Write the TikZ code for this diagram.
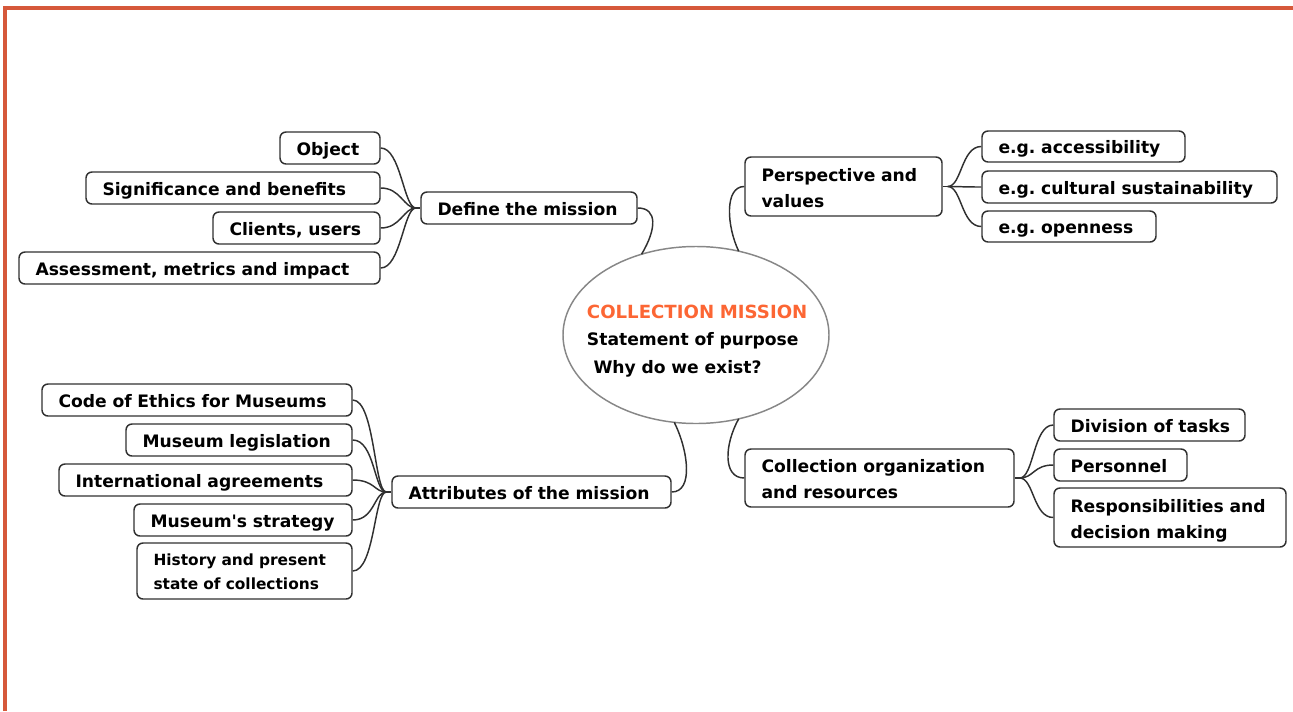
\documentclass[tikz,border=0pt]{standalone}
\usepackage{fontspec}
\setmainfont{DejaVu Sans}
\usetikzlibrary{calc,shapes.geometric}
\definecolor{framec}{RGB}{214,88,58}
\definecolor{titlec}{RGB}{252,102,52}
\definecolor{ink}{RGB}{48,48,48}
\definecolor{rim}{RGB}{135,135,135}
\frenchspacing
\newcommand\mbx[7][]{\node[box,#1,minimum width={(#5-#3)*0.75pt},minimum height={(#6-#4)*0.75pt},text width={(#5-#3-33)*0.75pt}] (#2) at ({(#3+#5)/2},{(#4+#6)/2}) {#7};}
\begin{document}
\begin{tikzpicture}[x=0.75pt,y=-0.75pt,
  box/.style={draw=ink, line width=1.1pt, rounded corners=4.5pt, inner xsep=12.375pt, inner ysep=0pt,
    align=left, font=\bfseries\frenchspacing\fontsize{12.87}{19.5}\selectfont, text height=10.9pt, text depth=0pt},
  twolines/.style={text height=11.6pt, text depth=19.5pt},
  small/.style={font=\bfseries\fontsize{11.55}{18}\selectfont, text height=9.9pt, text depth=18pt},
  link/.style={draw=ink, line width=1.1pt},
  framel/.style={draw=framec, line width=2.4pt},
]
\path[use as bounding box] (0,0) rectangle (1293,711);
\draw[framel] (5,711) -- (5,8) -- (1293,8);

% centre
\node[ellipse, draw=rim, line width=1.1pt, minimum width=199.5pt, minimum height=132.75pt, inner sep=0pt, outer sep=0pt] (core) at (696,335) {};
\node[anchor=base west, inner sep=0pt, text width=180pt, align=left,
  font=\bfseries\fontsize{12.87}{20.8}\selectfont] (ctext) at (586.7,318.2)
  {{\color{titlec}\fontsize{13.6}{20.8}\selectfont COLLECTION MISSION}\\Statement of purpose\\\hspace*{4.9pt}Why do we exist?};

% upper left
\mbx{dm}{421}{192}{637}{224}{\mbox{Define the mission}}
\mbx{obj}{280}{132}{380}{164}{\mbox{Object}}
\mbx{sig}{86}{172}{380}{204}{\mbox{Significance and benefits}}
\mbx{cli}{213}{212}{380}{244}{\mbox{Clients, users}}
\mbx{ass}{19}{252}{380}{284}{\mbox{Assessment, metrics and impact}}

% upper right
\mbx[twolines]{pv}{745}{157}{942}{216}{\mbox{Perspective and}\\\mbox{values}}
\mbx{acc}{982}{131}{1185}{162}{\mbox{e.g. accessibility}}
\mbx{cul}{982}{171}{1277}{203}{\mbox{e.g. cultural sustainability}}
\mbx{ope}{982}{211}{1156}{242}{\mbox{e.g. openness}}

% lower left
\mbx{attr}{392}{476}{671}{508}{\mbox{Attributes of the mission}}
\mbx{coe}{42}{384}{352}{416}{\mbox{Code of Ethics for Museums}}
\mbx{leg}{126}{424}{352}{456}{\mbox{Museum legislation}}
\mbx{intl}{59}{464}{352}{496}{\mbox{International agreements}}
\mbx{strat}{134}{504}{352}{536}{\mbox{Museum\textquotesingle s strategy}}
\mbx[small]{hist}{137}{543}{352}{599}{\mbox{History and present}\\\mbox{state of collections}}

% lower right
\mbx[twolines]{co}{745}{449}{1014}{507}{\mbox{Collection organization}\\\mbox{and resources}}
\mbx{div}{1054}{409}{1245}{441}{\mbox{Division of tasks}}
\mbx{pers}{1054}{449}{1187}{481}{\mbox{Personnel}}
\mbx[twolines]{resp}{1054}{488}{1286}{547}{\mbox{Responsibilities and}\\\mbox{decision making}}

% junctions
\coordinate (jdm) at ($(dm.west)+(-4.5,0)$);
\coordinate (jat) at ($(attr.west)+(-5,0)$);
\coordinate (jpv) at ($(pv.east)+(5,0)$);
\coordinate (jco) at ($(co.east)+(5,0)$);
\draw[link] (jdm) -- (dm.west);
\draw[link] (jat) -- (attr.west);
\draw[link] (pv.east) -- (jpv);
\draw[link] (co.east) -- (jco);
\foreach \c in {obj,sig,cli,ass}
  \draw[link] (\c.east) .. controls +(20,0) and +(-12,0) .. (jdm);
\foreach \c in {coe,leg,intl,strat,hist}
  \draw[link] (\c.east) .. controls +(22,0) and +(-12,0) .. (jat);
\foreach \c in {acc,cul,ope}
  \draw[link] (jpv) .. controls +(14,0) and +(-20,0) .. (\c.west);
\foreach \c in {div,pers,resp}
  \draw[link] (jco) .. controls +(14,0) and +(-20,0) .. (\c.west);

% to the centre
\draw[link] (dm.east) .. controls +(20,0) and +(15,-25) .. (core.124.2);
\draw[link] (pv.west) .. controls +(-20,0) and +(-12,-25) .. (core.63.7);
\draw[link] (attr.east) .. controls +(22,0) and +(14,28) .. (core.256.6);
\draw[link] (co.west) .. controls +(-22,0) and +(-14,25) .. (core.297.4);
\end{tikzpicture}
\end{document}
